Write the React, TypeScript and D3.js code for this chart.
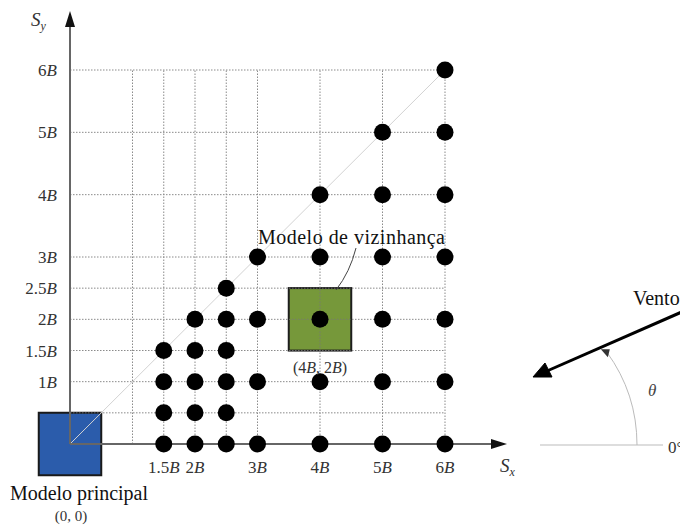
import React from 'react';
import { scaleLinear, path as d3path } from 'd3';

// grid positions, in units of B
const gridX = [1, 1.5, 2, 2.5, 3, 4, 5, 6];
const gridY = [0.5, 1, 1.5, 2, 2.5, 3, 4, 5, 6];

const xTicks = [
  { v: 1.5, n: '1.5' },
  { v: 2, n: '2' },
  { v: 3, n: '3' },
  { v: 4, n: '4' },
  { v: 5, n: '5' },
  { v: 6, n: '6' },
];
const yTicks = [
  { v: 1, n: '1' },
  { v: 1.5, n: '1.5' },
  { v: 2, n: '2' },
  { v: 2.5, n: '2.5' },
  { v: 3, n: '3' },
  { v: 4, n: '4' },
  { v: 5, n: '5' },
  { v: 6, n: '6' },
];

// neighbour positions (Sx, Sy)
const positions: [number, number][] = [
  [1.5, 0], [2, 0], [2.5, 0], [3, 0], [4, 0], [5, 0], [6, 0],
  [1.5, 0.5], [2, 0.5], [2.5, 0.5],
  [1.5, 1], [2, 1], [2.5, 1], [3, 1], [4, 1], [5, 1], [6, 1],
  [1.5, 1.5], [2, 1.5], [2.5, 1.5],
  [2, 2], [2.5, 2], [3, 2], [4, 2], [5, 2], [6, 2],
  [2.5, 2.5],
  [3, 3], [4, 3], [5, 3], [6, 3],
  [4, 4], [5, 4], [6, 4],
  [5, 5], [6, 5],
  [6, 6],
];

const principal = { x: 0, y: 0 };
const vizinho = { x: 4, y: 2 };

const serif = '"Liberation Serif", "DejaVu Serif", serif';

const App: React.FC = () => {
  const x = scaleLinear().domain([0, 6]).range([70, 445]);
  const y = scaleLinear().domain([0, 6]).range([444, 70]);
  const half = (x(1) - x(0)) / 2;

  // angle arc for theta
  const cx = 479, cy = 445, r = 158;
  const a1 = (36 * Math.PI) / 180;
  const arc = d3path();
  arc.moveTo(cx + r, cy);
  arc.arc(cx, cy, r, 0, -a1, true);
  const ex = cx + r * Math.cos(a1);
  const ey = cy - r * Math.sin(a1);

  const label = (n: string) => (
    <>
      {n}
      <tspan fontStyle="italic">B</tspan>
    </>
  );

  return (
    <svg width={680} height={526} style={{ position: 'absolute', left: 0, top: 0 }} fontFamily={serif}>
      <rect width={680} height={526} fill="#fff" />

      {/* squares */}
      <rect x={x(principal.x) - half} y={y(principal.y) - half} width={half * 2} height={half * 2}
        fill="#2b5cab" stroke="#1a1a1a" strokeWidth={2} />
      <rect x={x(vizinho.x) - half} y={y(vizinho.y) - half} width={half * 2} height={half * 2}
        fill="#76983a" stroke="#1e1e1e" strokeWidth={2} />

      {/* grid */}
      <g stroke="#777" strokeWidth={1} strokeDasharray="1.5,1.5" opacity={0.85}>
        {gridX.map((g) => (
          <line key={'gx' + g} x1={x(g)} x2={x(g)} y1={y(0)} y2={y(6)} />
        ))}
        {gridY.map((g) => (
          <line key={'gy' + g} x1={x(0)} x2={x(6)} y1={y(g)} y2={y(g)} />
        ))}
      </g>
      <line x1={x(0)} y1={y(0)} x2={x(6)} y2={y(6)} stroke="#d2d2d2" strokeWidth={1} />

      {/* axes */}
      <line x1={x(0)} y1={y(0)} x2={x(0)} y2={24} stroke="#666" strokeWidth={2} />
      <path d={`M${x(0) - 5},27 L${x(0)},11 L${x(0) + 5},27 Z`} fill="#111" />
      <line x1={x(0)} y1={y(0)} x2={494} y2={y(0)} stroke="#666" strokeWidth={2} />
      <path d={`M491,${y(0) - 5} L507,${y(0)} L491,${y(0) + 5} Z`} fill="#111" />

      {/* dots */}
      {positions.map(([px, py], i) => (
        <circle key={i} cx={x(px)} cy={y(py)} r={8.5} fill="#000" />
      ))}

      {/* tick labels */}
      <g fontSize={17} fill="#333" textAnchor="end">
        {yTicks.map((t) => (
          <text key={'yt' + t.v} x={57} y={y(t.v) + 6}>{label(t.n)}</text>
        ))}
      </g>
      <g fontSize={17} fill="#333" textAnchor="middle">
        {xTicks.map((t) => (
          <text key={'xt' + t.v} x={x(t.v)} y={473}>{label(t.n)}</text>
        ))}
      </g>

      {/* axis titles */}
      <text x={31} y={26} fontSize={19} fontStyle="italic" fill="#333">
        S<tspan fontSize={12} dy={4}>y</tspan>
      </text>
      <text x={500} y={472} fontSize={19} fontStyle="italic" fill="#333">
        S<tspan fontSize={12} dy={4}>x</tspan>
      </text>

      {/* annotations */}
      <text x={10} y={500} fontSize={20} fill="#111" textLength={138}>Modelo principal</text>
      <text x={71} y={521} fontSize={15} fill="#333" textAnchor="middle">(0, 0)</text>
      <text x={258} y={244} fontSize={20} fill="#111" textLength={187}>Modelo de vizinhança</text>
      <path d="M356,248 Q350,272 336,290" fill="none" stroke="#444" strokeWidth={1} />
      <text x={x(4)} y={373} fontSize={16} fill="#333" textAnchor="middle">
        (4<tspan fontStyle="italic">B</tspan>, 2<tspan fontStyle="italic">B</tspan>)
      </text>

      {/* wind */}
      <text x={633} y={305} fontSize={20} fill="#111">Vento</text>
      <line x1={684} y1={311} x2={547} y2={371} stroke="#000" strokeWidth={3} />
      <path d="M533,377 L545,363 L552,377 Z" fill="#000" stroke="#000" strokeWidth={1} />
      <line x1={540} y1={445} x2={663} y2={445} stroke="#bbb" strokeWidth={1} />
      <path d={arc.toString()} fill="none" stroke="#bbb" strokeWidth={1} />
      <path d={`M${ex - 6},${ey - 3} L${ex + 1},${ey + 5} L${ex + 3},${ey - 3} Z`} fill="#333" />
      <text x={648} y={396} fontSize={17} fontStyle="italic" fill="#444">θ</text>
      <text x={668} y={453} fontSize={17} fill="#333">0°</text>
    </svg>
  );
};

export default App;
